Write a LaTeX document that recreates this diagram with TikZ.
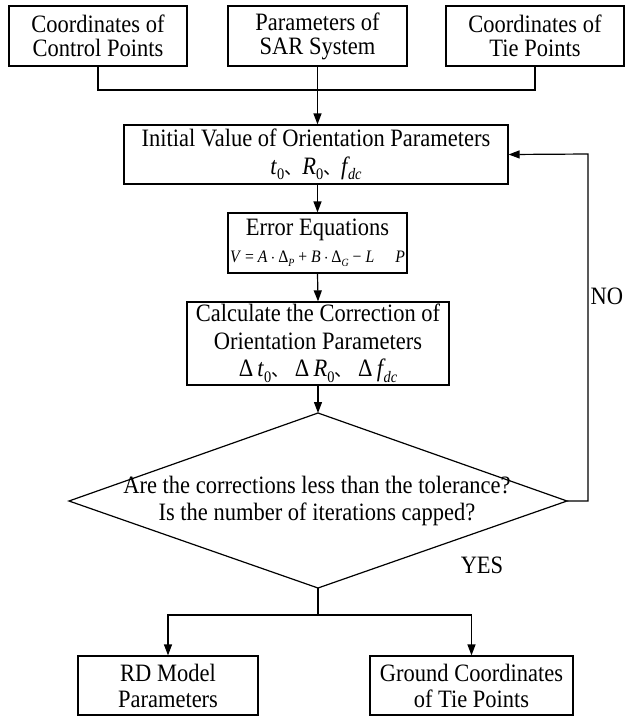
\documentclass[tikz,border=0pt]{standalone}
\usepackage{fontspec}
\setmainfont[FakeStretch=0.9]{Liberation Serif}
\newfontfamily\cjk{Noto Sans CJK SC}
\usetikzlibrary{arrows.meta}
\newcommand{\msub}[1]{\raisebox{-0.22em}{\fontsize{16}{16}\selectfont #1}}
\newcommand{\esub}[1]{\raisebox{-0.25em}{\fontsize{11}{11}\selectfont\itshape #1}}
\newcommand{\dun}{{\cjk\fontsize{18}{18}\selectfont 、}}
\begin{document}
\begin{tikzpicture}[x=1pt,y=-1pt,line width=1.2pt,
  box/.style={draw,rectangle,inner sep=0pt,align=center,font=\fontsize{25}{27.5}\selectfont},
  topbox/.style={box,minimum height=60pt,font=\fontsize{25}{24}\selectfont},
  arr/.style={-{Triangle[length=11pt,width=8pt]}},
  lbl/.style={inner sep=0pt,align=center,font=\fontsize{25}{27}\selectfont}]
\useasboundingbox (0,0) rectangle (625,716);
% top boxes
\node[topbox,minimum width=178pt] (b1) at (98,36) {Coordinates of\\Control Points};
\node[topbox,minimum width=179pt] (b2) at (317.5,36) {Parameters of\\SAR System};
\node[topbox,minimum width=178pt] (b3) at (535,36) {Coordinates of\\Tie Points};
\coordinate (j) at (317.5,90);
% main column
\node[box,minimum width=384pt,minimum height=59pt] (init) at (316,154.5)
  {Initial Value of Orientation Parameters\\
   \textit{t}\msub{0}\dun\textit{R}\msub{0}\dun\textit{f}\kern-2pt\msub{\textit{dc}}};
\node[box,minimum width=179pt,minimum height=60pt] (err) at (317.5,243)
  {Error Equations\\[-1pt]
   {\fontsize{17.5}{17.5}\selectfont\textit{V} = \textit{A}\,$\cdot$\,Δ\esub{P} + \textit{B}\,$\cdot$\,Δ\esub{G} − \textit{L}\hspace{1.2em}\textit{P}}};
\node[box,minimum width=262pt,minimum height=83pt] (calc) at (318,343.5)
  {Calculate the Correction of\\Orientation Parameters\\
   Δ\,\textit{t}\msub{0}\dun\ Δ\,\textit{R}\msub{0}\dun\ Δ\,\textit{f}\kern-2pt\msub{\textit{dc}}};
% diamond
\coordinate (dt) at (318,413);
\coordinate (dr) at (567,501);
\coordinate (db) at (318,588);
\coordinate (dl) at (69,501);
\draw (dt) -- (dr) -- (db) -- (dl) -- cycle;
\node[lbl] (q) at (317,501) {Are the corrections less than the tolerance?\\Is the number of iterations capped?};
% bottom boxes
\node[box,minimum width=180pt,minimum height=59pt,font=\fontsize{25}{26}\selectfont] (rd) at (168,685.5) {RD Model\\Parameters};
\node[box,minimum width=203pt,minimum height=59pt,font=\fontsize{25}{26}\selectfont] (gc) at (471.5,685.5) {Ground Coordinates\\of Tie Points};
\coordinate (k) at (318,615);
% labels
\node[lbl,anchor=west] (no) at (590,296) {NO};
\node[lbl] (yes) at (482,565) {YES};
% connectors
\draw (b1.south) |- (j) -| (b3.south);
\draw[arr] (b2.south) -- (init.north -| b2.south);
\draw[arr] (init.south -| err.north) -- (err.north);
\draw[arr] (err.south) -- (calc.north);
\draw[arr] (calc.south) -- (dt);
\draw[arr] (dr) -| (588,154) -- (init.east);
\draw (db) -- (k);
\draw[arr] (k) -| (rd.north);
\draw[arr] (k) -| (gc.north);
\end{tikzpicture}
\end{document}
